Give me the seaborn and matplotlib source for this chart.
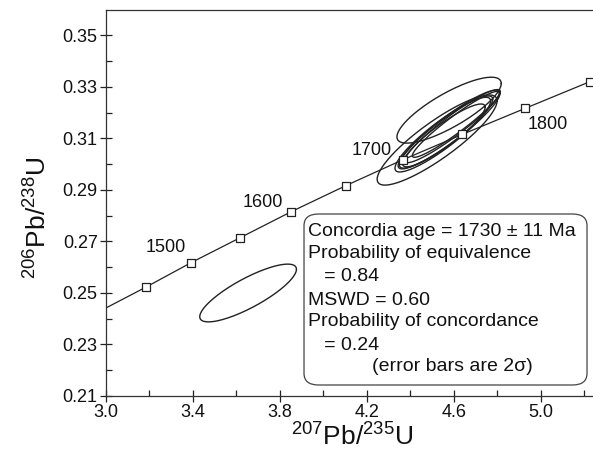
import numpy as np
import pandas as pd
import matplotlib
matplotlib.use("Agg")
import matplotlib.pyplot as plt
from matplotlib.patches import FancyBboxPatch
import seaborn as sns

# ---------------- data ----------------
# concordia curve: start point, age markers (1450..1850 Ma every 50), end point
conc_x = [3.000, 3.182, 3.392, 3.618, 3.853, 4.104, 4.365, 4.640, 4.929, 5.228, 5.242]
conc_y = [0.2442, 0.2522, 0.2618, 0.2715, 0.2816, 0.2917, 0.3017, 0.3116, 0.3217, 0.3321, 0.3326]
marker_ages = [1450, 1500, 1550, 1600, 1650, 1700, 1750, 1800, 1850]
marker_x = [3.182, 3.392, 3.618, 3.853, 4.104, 4.365, 4.640, 4.929, 5.228]
marker_y = [0.2522, 0.2618, 0.2715, 0.2816, 0.2917, 0.3017, 0.3116, 0.3217, 0.3321]

age_labels = ["1500", "1600", "1700", "1800"]
age_label_x = [3.274, 3.72, 4.225, 5.034]
age_label_y = [0.2675, 0.2853, 0.3052, 0.3153]

# error ellipses: centre, half-extent in x, half-extent in y, correlation
ell_cx = [3.654, 4.579, 4.579, 4.595, 4.565, 4.610, 4.555, 4.524, 4.550]
ell_cy = [0.2500, 0.3210, 0.3135, 0.3148, 0.3125, 0.3155, 0.3112, 0.3094, 0.3115]
ell_hx = [0.2225, 0.240, 0.2345, 0.220, 0.215, 0.200, 0.190, 0.276, 0.220]
ell_hy = [0.01122, 0.0128, 0.0153, 0.0142, 0.0140, 0.0128, 0.0122, 0.0175, 0.0145]
ell_rho = [0.82, 0.81, 0.92, 0.94, 0.91, 0.95, 0.90, 0.87, 0.90]

x_ticks = [3.0, 3.4, 3.8, 4.2, 4.6, 5.0]
y_ticks = [0.21, 0.23, 0.25, 0.27, 0.29, 0.31, 0.33, 0.35]

info_lines = ["Concordia age = 1730 \u00b1 11 Ma",
              "Probability of equivalence",
              "   = 0.84",
              "MSWD = 0.60",
              "Probability of concordance",
              "   = 0.24",
              "(error bars are 2\u03c3)"]

# ---------------- style ----------------
sns.set_style("ticks")
plt.rcParams["font.family"] = ["Liberation Sans", "DejaVu Sans"]
plt.rcParams["mathtext.fontset"] = "custom"
plt.rcParams["mathtext.rm"] = "Liberation Sans"
plt.rcParams["mathtext.default"] = "regular"

fig = plt.figure(figsize=(5.93, 4.54), dpi=100)
ax = fig.add_axes([106 / 593, 58 / 454, 487 / 593, 386 / 454])

line_col = "#222222"

# concordia
conc_df = pd.DataFrame({"x": conc_x, "y": conc_y})
sns.lineplot(data=conc_df, x="x", y="y", sort=False, estimator=None,
             color=line_col, linewidth=0.9, ax=ax)

# ellipses
t = np.linspace(0, 2 * np.pi, 200)
rows = []
for i, (cx, cy, hx, hy, r) in enumerate(zip(ell_cx, ell_cy, ell_hx, ell_hy, ell_rho)):
    ex = cx + hx * np.cos(t)
    ey = cy + hy * (r * np.cos(t) + np.sqrt(1 - r * r) * np.sin(t))
    rows.append(pd.DataFrame({"x": ex, "y": ey, "id": i, "o": np.arange(len(t))}))
ell_df = pd.concat(rows, ignore_index=True)
sns.lineplot(data=ell_df, x="x", y="y", units="id", estimator=None, sort=False,
             color=line_col, linewidth=1.0, ax=ax)

# age markers
mk_df = pd.DataFrame({"x": marker_x, "y": marker_y, "age": marker_ages})
sns.scatterplot(data=mk_df, x="x", y="y", marker="s", s=38, facecolor="white",
                edgecolor=line_col, linewidth=0.9, ax=ax, zorder=5, clip_on=False)

for lab, lx, ly in zip(age_labels, age_label_x, age_label_y):
    ax.text(lx, ly, lab, fontsize=13, ha="center", va="center", color="#111111")

# info box
box = FancyBboxPatch((0.4066, 0.0285), 0.9877 - 0.4066, 0.4715 - 0.0285,
                     boxstyle="round,pad=0,rounding_size=0.03",
                     transform=ax.transAxes, facecolor="white",
                     edgecolor="#444444", linewidth=0.9, zorder=6)
ax.add_patch(box)
line_y = [0.4257, 0.3679, 0.3091, 0.2487, 0.1925, 0.1321, 0.0759]
line_x = [0.4148, 0.4148, 0.4148, 0.4148, 0.4148, 0.4148, 0.5456]
for txt, tx, ty in zip(info_lines, line_x, line_y):
    ax.text(tx, ty, txt, transform=ax.transAxes, fontsize=14, ha="left",
            va="center", color="#111111", zorder=7)

# axes
ax.set_xlim(3.0, 5.2414)
ax.set_ylim(0.21, 0.3599)
ax.set_xticks(x_ticks)
ax.set_xticklabels([f"{v:.1f}" for v in x_ticks])
ax.set_yticks(y_ticks)
ax.set_yticklabels([f"{v:.2f}" for v in y_ticks])
ax.set_xticks(np.arange(3.2, 5.21, 0.4), minor=True)
ax.set_yticks(np.arange(0.22, 0.36, 0.02), minor=True)
ax.tick_params(which="major", direction="inout", length=8, width=0.9,
               labelsize=13, pad=2, colors="#222222", labelcolor="#111111")
ax.tick_params(which="minor", direction="in", length=4, width=0.9, colors="#222222")
ax.spines["right"].set_visible(False)
for s in ["left", "bottom", "top"]:
    ax.spines[s].set_linewidth(0.9)
    ax.spines[s].set_color("#333333")

ax.set_xlabel(r"$^{207}$Pb/$^{235}$U", fontsize=19, color="#111111")
ax.set_ylabel(r"$^{206}$Pb/$^{238}$U", fontsize=19, color="#111111")
ax.xaxis.set_label_coords(0.505, -0.072)
ax.yaxis.set_label_coords(-0.112, 0.46)

fig.savefig("out.png", dpi=100)
